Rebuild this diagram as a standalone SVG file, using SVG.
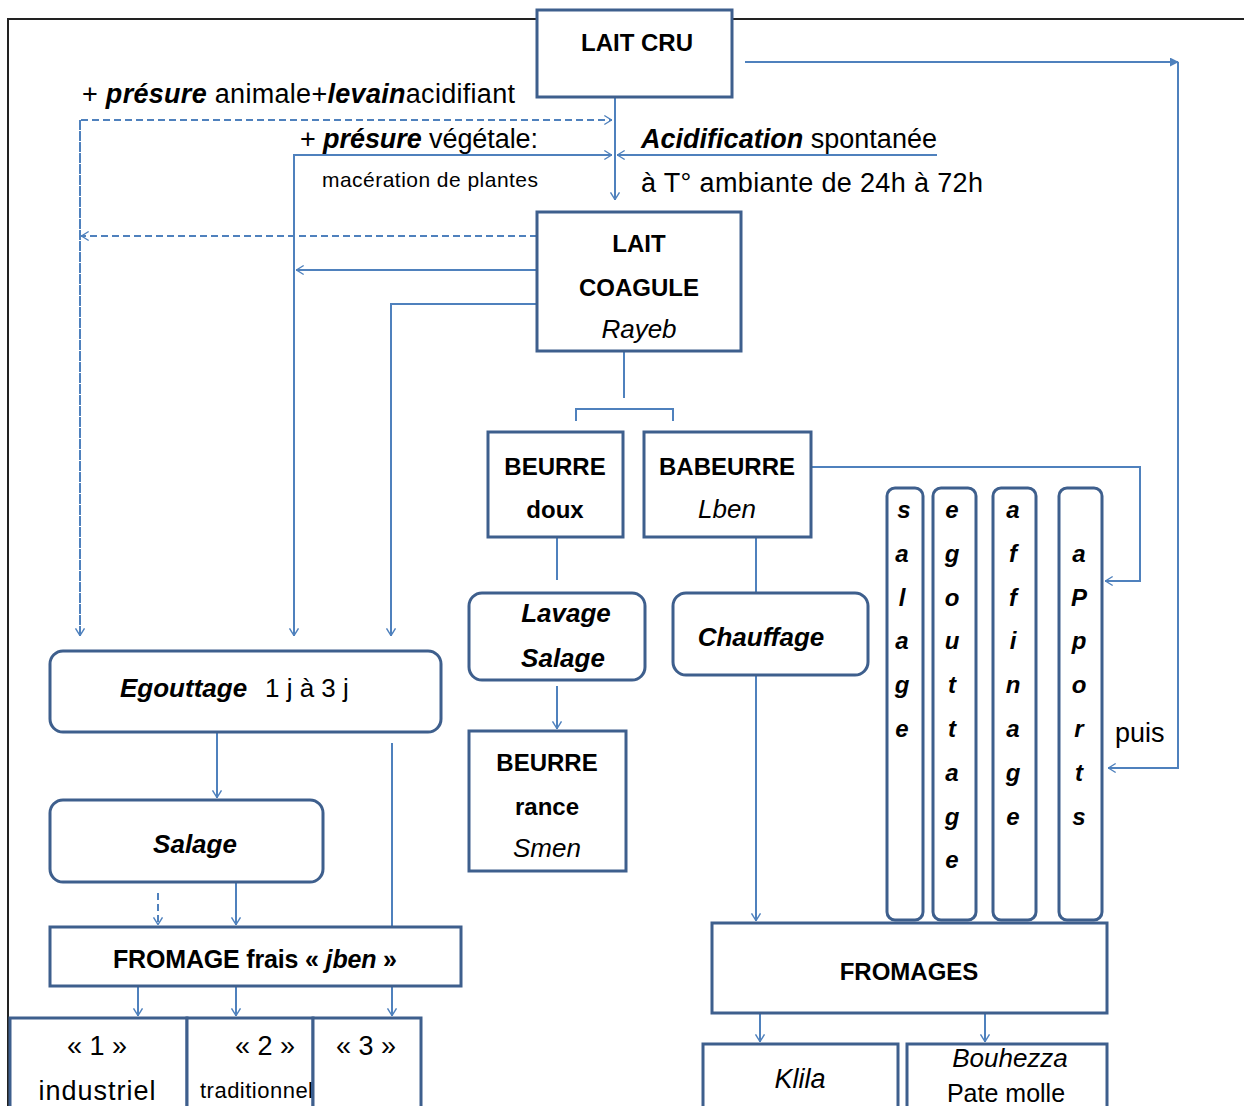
<svg xmlns="http://www.w3.org/2000/svg" width="1244" height="1106" viewBox="0 0 1244 1106">
<style>
text{font-family:"Liberation Sans",Arial,sans-serif;fill:#000}
.box{fill:#fff;stroke:#3e5f8d;stroke-width:3}
.c{fill:none;stroke:#4f81bd;stroke-width:2}
.d{fill:none;stroke:#4f81bd;stroke-width:2;stroke-dasharray:7 4}
.t{font-size:24px;font-weight:bold;text-anchor:middle}
.ti{font-size:26px;font-style:italic;text-anchor:middle}
.bi{font-weight:bold;font-style:italic}
.it{font-style:italic}
.a{font-size:27px}
.v{font-size:24px;font-weight:bold;font-style:italic;text-anchor:middle}
</style>
<defs>
<marker id="ar" viewBox="0 0 10 12" refX="9.5" refY="6" markerWidth="9" markerHeight="12" markerUnits="userSpaceOnUse" orient="auto">
<path d="M1,1 L9,6 L1,11" fill="none" stroke="#4f81bd" stroke-width="1.6"/>
</marker>
<marker id="af" viewBox="0 0 10 10" refX="9" refY="5" markerWidth="9" markerHeight="9" markerUnits="userSpaceOnUse" orient="auto">
<path d="M0,0 L10,5 L0,10 Z" fill="#4f81bd"/>
</marker>
</defs>
<rect width="1244" height="1106" fill="#fff"/>
<g id="frame" fill="none" stroke="#222" stroke-width="2">
<path d="M8,1106 V19 H1244"/>
</g>

<g id="connectors">
<path class="c" d="M615,97 V200" marker-end="url(#ar)"/>
<path class="d" d="M80,636 V120 H612" marker-end="url(#ar)"/>
<path class="d" d="M80,120 V636" marker-end="url(#ar)"/>
<path class="d" d="M537,236 H81" marker-end="url(#ar)"/>
<path class="c" d="M294,636 V155 H612" marker-end="url(#ar)"/>
<path class="c" d="M294,155 V636" marker-end="url(#ar)"/>
<path class="c" d="M937,155 H617" marker-end="url(#ar)"/>
<path class="c" d="M537,270 H296" marker-end="url(#ar)"/>
<path class="c" d="M537,304 H391 V636" marker-end="url(#ar)"/>
<path class="c" d="M745,62 H1178" marker-end="url(#af)"/>
<path class="c" d="M1178,62 V768 H1108" marker-end="url(#ar)"/>
<path class="c" d="M624,351 V398"/>
<path class="c" d="M576,421 V409 H673 V421"/>
<path class="c" d="M557,537 V580"/>
<path class="c" d="M557,686 V729" marker-end="url(#ar)"/>
<path class="c" d="M756,537 V593"/>
<path class="c" d="M756,675 V921" marker-end="url(#ar)"/>
<path class="c" d="M811,467 H1140 V581 H1105" marker-end="url(#ar)"/>
<path class="c" d="M217,732 V798" marker-end="url(#ar)"/>
<path class="d" d="M158,893 V925" marker-end="url(#ar)"/>
<path class="c" d="M236,882 V925" marker-end="url(#ar)"/>
<path class="c" d="M392,743 V926"/>
<path class="c" d="M138,986 V1016" marker-end="url(#ar)"/>
<path class="c" d="M236,986 V1016" marker-end="url(#ar)"/>
<path class="c" d="M392,986 V1016" marker-end="url(#ar)"/>
<path class="c" d="M760,1013 V1042" marker-end="url(#ar)"/>
<path class="c" d="M985,1013 V1042" marker-end="url(#ar)"/>
</g>

<g id="labels">
<text class="a" x="82" y="103" textLength="433">+ <tspan class="bi">présure</tspan> animale+<tspan class="bi">levain</tspan>acidifiant</text>
<text class="a" x="300" y="148" textLength="238">+ <tspan class="bi">présure</tspan> végétale:</text>
<text x="322" y="187" font-size="21" textLength="216">macération de plantes</text>
<text class="a" x="641" y="148" textLength="296"><tspan class="bi">Acidification</tspan> spontanée</text>
<text class="a" x="641" y="192" textLength="342">à T° ambiante de 24h à 72h</text>
<text class="a" x="1115" y="742">puis</text>
</g>

<g id="lait-cru">
<rect class="box" x="537" y="10" width="195" height="87"/>
<text class="t" x="637" y="51">LAIT CRU</text>
</g>
<g id="lait-coagule">
<rect class="box" x="537" y="212" width="204" height="139"/>
<text class="t" x="639" y="252">LAIT</text>
<text class="t" x="639" y="296">COAGULE</text>
<text class="ti" x="639" y="338">Rayeb</text>
</g>
<g id="beurre-doux">
<rect class="box" x="488" y="432" width="135" height="105"/>
<text class="t" x="555" y="475">BEURRE</text>
<text class="t" x="555" y="518">doux</text>
</g>
<g id="babeurre">
<rect class="box" x="644" y="432" width="167" height="105"/>
<text class="t" x="727" y="475">BABEURRE</text>
<text class="ti" x="727" y="518">Lben</text>
</g>
<g id="lavage-salage">
<rect class="box" x="469" y="593" width="176" height="87" rx="13"/>
<text class="bi" x="566" y="622" font-size="26" text-anchor="middle">Lavage</text>
<text class="bi" x="563" y="667" font-size="26" text-anchor="middle">Salage</text>
</g>
<g id="beurre-rance">
<rect class="box" x="469" y="731" width="157" height="140"/>
<text class="t" x="547" y="771">BEURRE</text>
<text class="t" x="547" y="815">rance</text>
<text class="ti" x="547" y="857">Smen</text>
</g>
<g id="chauffage">
<rect class="box" x="673" y="593" width="195" height="82" rx="13"/>
<text class="bi" x="761" y="646" font-size="26" text-anchor="middle">Chauffage</text>
</g>
<g id="egouttage">
<rect class="box" x="50" y="651" width="391" height="81" rx="13"/>
<text x="120" y="697" font-size="26"><tspan class="bi">Egouttage</tspan><tspan x="265">1 j à 3 j</tspan></text>
</g>
<g id="salage">
<rect class="box" x="50" y="800" width="273" height="82" rx="13"/>
<text class="bi" x="195" y="853" font-size="26" text-anchor="middle">Salage</text>
</g>
<g id="fromage-frais">
<rect class="box" x="50" y="927" width="411" height="59"/>
<text x="113" y="968" font-size="25" font-weight="bold" textLength="284">FROMAGE frais « <tspan font-style="italic">jben</tspan> »</text>
</g>
<g id="type-1">
<rect class="box" x="10" y="1018" width="177" height="100"/>
<text x="97" y="1055" font-size="27" text-anchor="middle">« 1 »</text>
<text x="97" y="1100" font-size="27" text-anchor="middle" textLength="117">industriel</text>
</g>
<g id="type-2">
<rect class="box" x="187" y="1018" width="126" height="100"/>
<text x="265" y="1055" font-size="27" text-anchor="middle">«  2 »</text>
<text x="200" y="1098" font-size="22" textLength="113">traditionnel</text>
</g>
<g id="type-3">
<rect class="box" x="313" y="1018" width="108" height="100"/>
<text x="366" y="1055" font-size="27" text-anchor="middle">« 3 »</text>
</g>
<g id="v-salage">
<rect class="box" x="887" y="488" width="36" height="432" rx="8"/>
<text class="v" x="904" y="518">s</text><text class="v" x="902" y="562">a</text><text class="v" x="902" y="606">l</text><text class="v" x="902" y="649">a</text><text class="v" x="902" y="693">g</text><text class="v" x="902" y="737">e</text>
</g>
<g id="v-egouttage">
<rect class="box" x="933" y="488" width="43" height="432" rx="8"/>
<text class="v" x="952" y="518">e</text><text class="v" x="952" y="562">g</text><text class="v" x="952" y="606">o</text><text class="v" x="952" y="649">u</text><text class="v" x="952" y="693">t</text><text class="v" x="952" y="737">t</text><text class="v" x="952" y="781">a</text><text class="v" x="952" y="825">g</text><text class="v" x="952" y="868">e</text>
</g>
<g id="v-affinage">
<rect class="box" x="993" y="488" width="43" height="432" rx="8"/>
<text class="v" x="1013" y="518">a</text><text class="v" x="1013" y="562">f</text><text class="v" x="1013" y="606">f</text><text class="v" x="1013" y="649">i</text><text class="v" x="1013" y="693">n</text><text class="v" x="1013" y="737">a</text><text class="v" x="1013" y="781">g</text><text class="v" x="1013" y="825">e</text>
</g>
<g id="v-apports">
<rect class="box" x="1059" y="488" width="43" height="432" rx="8"/>
<text class="v" x="1079" y="562">a</text><text class="v" x="1079" y="606">P</text><text class="v" x="1079" y="649">p</text><text class="v" x="1079" y="693">o</text><text class="v" x="1079" y="737">r</text><text class="v" x="1079" y="781">t</text><text class="v" x="1079" y="825">s</text>
</g>
<g id="fromages">
<rect class="box" x="712" y="923" width="395" height="90"/>
<text class="t" x="909" y="980" font-size="25">FROMAGES</text>
</g>
<g id="klila">
<rect class="box" x="703" y="1044" width="195" height="80"/>
<text class="it" x="800" y="1088" font-size="27" text-anchor="middle">Klila</text>
</g>
<g id="bouhezza">
<rect class="box" x="907" y="1044" width="200" height="80"/>
<text class="it" x="1010" y="1067" font-size="26" text-anchor="middle">Bouhezza</text>
<text x="1006" y="1102" font-size="25" text-anchor="middle">Pate molle</text>
</g>
</svg>
